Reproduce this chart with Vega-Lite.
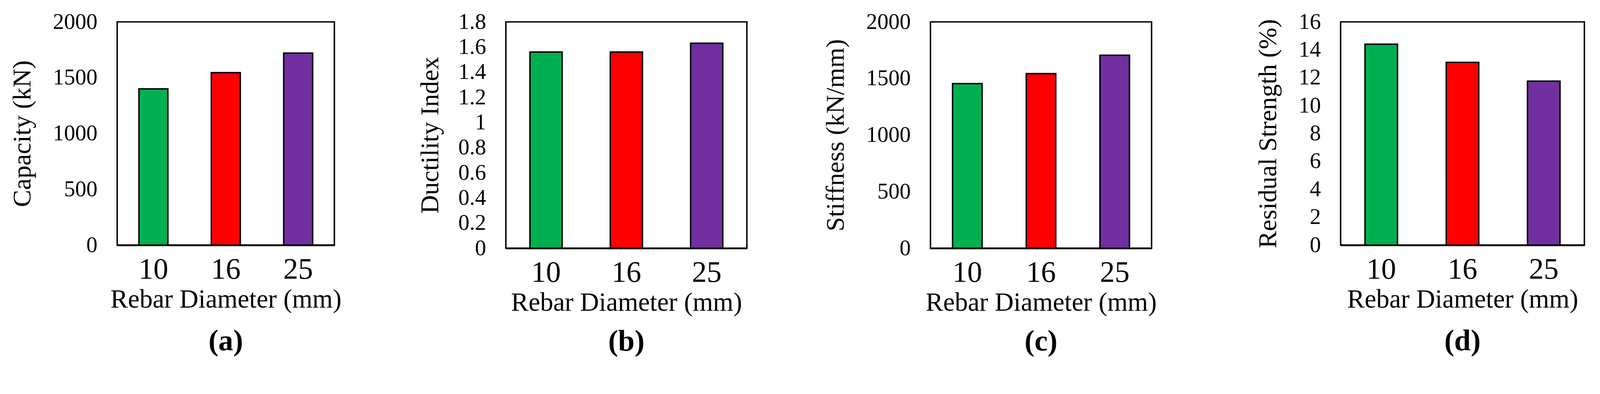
{
  "$schema": "https://vega.github.io/schema/vega-lite/v6.json",
  "padding": {"left": 22, "top": 25, "right": 9, "bottom": 9},
  "background": "white",
  "data": {"values": [
    {"metric": "Capacity", "diameter": "10", "value": 1400},
    {"metric": "Capacity", "diameter": "16", "value": 1545},
    {"metric": "Capacity", "diameter": "25", "value": 1720},
    {"metric": "Ductility", "diameter": "10", "value": 1.56},
    {"metric": "Ductility", "diameter": "16", "value": 1.56},
    {"metric": "Ductility", "diameter": "25", "value": 1.63},
    {"metric": "Stiffness", "diameter": "10", "value": 1455},
    {"metric": "Stiffness", "diameter": "16", "value": 1543},
    {"metric": "Stiffness", "diameter": "25", "value": 1705},
    {"metric": "Residual", "diameter": "10", "value": 14.4},
    {"metric": "Residual", "diameter": "16", "value": 13.1},
    {"metric": "Residual", "diameter": "25", "value": 11.75}
  ]},
  "spacing": 248,
  "hconcat": [
    {
      "spacing": 190,
      "hconcat": [
        {
          "width": 556, "height": 571,
          "title": {"text": "(a)", "orient": "bottom", "offset": 37},
          "transform": [{"filter": "datum.metric === 'Capacity'"}],
          "mark": {"type": "bar", "stroke": "black", "strokeWidth": 3.7},
          "encoding": {
            "x": {"field": "diameter", "type": "nominal", "sort": ["10", "16", "25"], "scale": {"paddingInner": 0.6, "paddingOuter": 0.3}, "axis": {"title": "Rebar Diameter (mm)"}},
            "y": {"field": "value", "type": "quantitative", "scale": {"domain": [0, 2000]}, "axis": {"title": "Capacity (kN)", "format": "d", "values": [0, 500, 1000, 1500, 2000]}},
            "color": {"field": "diameter", "type": "nominal", "scale": {"domain": ["10", "16", "25"], "range": ["#00B050", "#FF0000", "#7030A0"]}, "legend": null}
          }
        },
        {
          "width": 617, "height": 579,
          "title": {"text": "(b)", "orient": "bottom", "offset": 30},
          "transform": [{"filter": "datum.metric === 'Ductility'"}],
          "mark": {"type": "bar", "stroke": "black", "strokeWidth": 3.7},
          "encoding": {
            "x": {"field": "diameter", "type": "nominal", "sort": ["10", "16", "25"], "scale": {"paddingInner": 0.6, "paddingOuter": 0.3}, "axis": {"title": "Rebar Diameter (mm)"}},
            "y": {"field": "value", "type": "quantitative", "scale": {"domain": [0, 1.8]}, "axis": {"title": "Ductility Index", "titlePadding": 37, "format": "~g", "values": [0, 0.2, 0.4, 0.6, 0.8, 1, 1.2, 1.4, 1.6, 1.8]}},
            "color": {"field": "diameter", "type": "nominal", "scale": {"domain": ["10", "16", "25"], "range": ["#00B050", "#FF0000", "#7030A0"]}, "legend": null}
          }
        },
        {
          "width": 566, "height": 579,
          "title": {"text": "(c)", "orient": "bottom", "offset": 30},
          "transform": [{"filter": "datum.metric === 'Stiffness'"}],
          "mark": {"type": "bar", "stroke": "black", "strokeWidth": 3.7},
          "encoding": {
            "x": {"field": "diameter", "type": "nominal", "sort": ["10", "16", "25"], "scale": {"paddingInner": 0.6, "paddingOuter": 0.3}, "axis": {"title": "Rebar Diameter (mm)"}},
            "y": {"field": "value", "type": "quantitative", "scale": {"domain": [0, 2000]}, "axis": {"title": "Stiffness (kN/mm)", "format": "d", "values": [0, 500, 1000, 1500, 2000]}},
            "color": {"field": "diameter", "type": "nominal", "scale": {"domain": ["10", "16", "25"], "range": ["#00B050", "#FF0000", "#7030A0"]}, "legend": null}
          }
        }
      ]
    },
    {
      "width": 624, "height": 571,
      "title": {"text": "(d)", "orient": "bottom", "offset": 37},
      "transform": [{"filter": "datum.metric === 'Residual'"}],
      "mark": {"type": "bar", "stroke": "black", "strokeWidth": 3.7},
      "encoding": {
        "x": {"field": "diameter", "type": "nominal", "sort": ["10", "16", "25"], "scale": {"paddingInner": 0.6, "paddingOuter": 0.3}, "axis": {"title": "Rebar Diameter (mm)"}},
        "y": {"field": "value", "type": "quantitative", "scale": {"domain": [0, 16]}, "axis": {"title": "Residual Strength (%)", "format": "d", "values": [0, 2, 4, 6, 8, 10, 12, 14, 16]}},
        "color": {"field": "diameter", "type": "nominal", "scale": {"domain": ["10", "16", "25"], "range": ["#00B050", "#FF0000", "#7030A0"]}, "legend": null}
      }
    }
  ],
  "config": {
    "view": {"stroke": "black", "strokeWidth": 3.7},
    "title": {"font": "Liberation Serif", "fontSize": 76, "fontWeight": "bold", "color": "black", "anchor": "middle", "baseline": "top"},
    "axis": {"labelFont": "Liberation Serif", "titleFont": "Liberation Serif", "labelColor": "black", "titleColor": "black", "titleFontWeight": "normal", "grid": false, "ticks": false, "tickSize": 0},
    "axisX": {"labelFontSize": 76, "labelPadding": 25, "labelAngle": 0, "titleFontSize": 67, "titlePadding": 6, "domain": true, "domainColor": "black", "domainWidth": 4.6},
    "axisY": {"labelFontSize": 57, "labelPadding": 51, "titleFontSize": 66, "titlePadding": 44, "domain": false}
  }
}
